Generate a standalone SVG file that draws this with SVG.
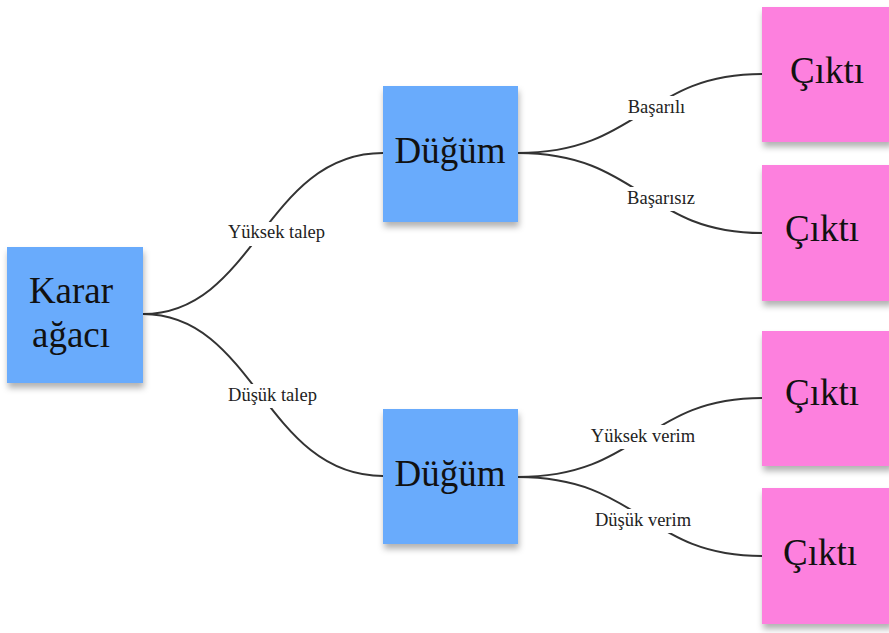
<svg xmlns="http://www.w3.org/2000/svg" width="889" height="633" viewBox="0 0 889 633">
<style>
.blue{fill:#69abfc;filter:url(#sh)}
.pink{fill:#fd80de;filter:url(#sh)}
.nt{font-family:"Liberation Serif","Times New Roman",serif;font-size:37px;fill:#111;text-anchor:middle}
.lt{font-family:"Liberation Serif","Times New Roman",serif;font-size:18.5px;fill:#222;text-anchor:middle}
.edge{fill:none;stroke:#333;stroke-width:2}
.bg{fill:#fff}
</style>
<defs>
<filter id="sh" x="-10%" y="-10%" width="130%" height="130%">
<feDropShadow dx="1" dy="5" stdDeviation="3" flood-color="#000" flood-opacity="0.3"/>
</filter>
</defs>
<rect width="889" height="633" fill="#fff"/>
<g id="connectors">
<path class="edge" d="M143,314 C255,314 265,153 383,153"/>
<path class="edge" d="M143,314 C255,314 265,476 383,476"/>
<path class="edge" d="M518,153 C640,153 645,74 762,74"/>
<path class="edge" d="M518,153 C640,153 645,233 762,233"/>
<path class="edge" d="M518,477 C640,477 645,398 762,398"/>
<path class="edge" d="M518,477 C640,477 645,556 762,556"/>
</g>
<g id="labels">
<g id="l1"><rect class="bg" x="226" y="222" width="101" height="24"/><text class="lt" x="276.5" y="238">Yüksek talep</text></g>
<g id="l2"><rect class="bg" x="225" y="384" width="95" height="24"/><text class="lt" x="272.5" y="401">Düşük talep</text></g>
<g id="l3"><rect class="bg" x="624" y="96" width="66" height="24"/><text class="lt" x="656.5" y="113">Başarılı</text></g>
<g id="l4"><rect class="bg" x="624" y="187" width="74" height="24"/><text class="lt" x="661" y="204">Başarısız</text></g>
<g id="l5"><rect class="bg" x="589" y="425" width="108" height="24"/><text class="lt" x="643" y="442">Yüksek verim</text></g>
<g id="l6"><rect class="bg" x="592" y="509" width="102" height="24"/><text class="lt" x="643" y="526">Düşük verim</text></g>
</g>
<g id="karar">
<rect class="blue" x="7" y="247" width="136" height="136"/>
<text class="nt" x="71" y="303">Karar</text>
<text class="nt" x="71" y="347">ağacı</text>
</g>
<g id="dugum1">
<rect class="blue" x="383" y="86" width="135" height="136"/>
<text class="nt" x="450" y="163">Düğüm</text>
</g>
<g id="dugum2">
<rect class="blue" x="383" y="409" width="135" height="135"/>
<text class="nt" x="450" y="486">Düğüm</text>
</g>
<g id="cikti1">
<rect class="pink" x="762" y="7" width="130" height="135"/>
<text class="nt" x="827" y="83">Çıktı</text>
</g>
<g id="cikti2">
<rect class="pink" x="762" y="165" width="130" height="136"/>
<text class="nt" x="822" y="241">Çıktı</text>
</g>
<g id="cikti3">
<rect class="pink" x="762" y="331" width="130" height="135"/>
<text class="nt" x="822" y="405">Çıktı</text>
</g>
<g id="cikti4">
<rect class="pink" x="762" y="488" width="130" height="136"/>
<text class="nt" x="820" y="565">Çıktı</text>
</g>
</svg>
